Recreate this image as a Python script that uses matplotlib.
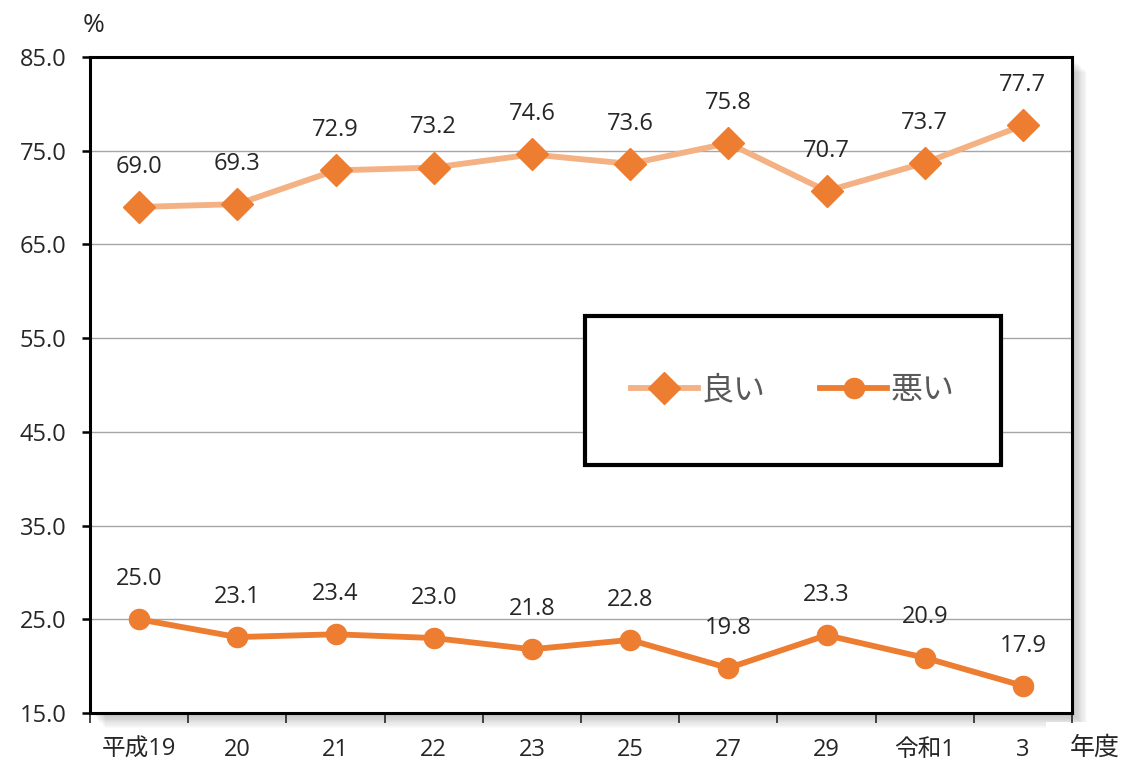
import matplotlib
matplotlib.use("Agg")
import matplotlib.pyplot as plt
from matplotlib.patches import Rectangle

plt.rcParams['font.family'] = ['Open Sans', 'Noto Sans CJK JP', 'DejaVu Sans']

categories = ["平成19", "20", "21", "22", "23", "25", "27", "29", "令和1", "3"]
good = [69.0, 69.3, 72.9, 73.2, 74.6, 73.6, 75.8, 70.7, 73.7, 77.7]
bad = [25.0, 23.1, 23.4, 23.0, 21.8, 22.8, 19.8, 23.3, 20.9, 17.9]
yticks = [15.0, 25.0, 35.0, 45.0, 55.0, 65.0, 75.0, 85.0]

fig = plt.figure(figsize=(11.29, 7.64), dpi=100)
W, H = 1129, 764
l, r, t, b = 90, 1072, 57, 713
ax = fig.add_axes([l / W, 1 - b / H, (r - l) / W, (b - t) / H])
ax.set_zorder(5)
ax.set_facecolor('white')

# soft drop shadow
for i in range(12):
    off = 2 + i * 1.2
    fig.patches.append(Rectangle(((l + off) / W, 1 - (b + off) / H), (r - l) / W, (b - t) / H,
                                 transform=fig.transFigure, facecolor='#000000',
                                 alpha=0.018, edgecolor='none', zorder=0))

x = list(range(len(categories)))
ax.plot(x, good, color='#F4B183', lw=4.2, marker='D', markersize=16,
        markerfacecolor='#ED7D31', markeredgecolor='#ED7D31', label='良い', zorder=3)
ax.plot(x, bad, color='#ED7D31', lw=4.2, marker='o', markersize=14.5,
        markerfacecolor='#ED7D31', markeredgecolor='#ED7D31', label='悪い', zorder=3)

fs = 17
for xi, v in zip(x, good):
    ax.annotate(f"{v:.1f}", (xi, v), xytext=(0, 29), textcoords='offset points',
                ha='center', va='center', fontsize=fs, color='#262626')
for xi, v in zip(x, bad):
    ax.annotate(f"{v:.1f}", (xi, v), xytext=(0, 29), textcoords='offset points',
                ha='center', va='center', fontsize=fs, color='#262626')

ax.set_xlim(-0.5, len(categories) - 0.5)
ax.set_ylim(15, 85)
ax.set_yticks(yticks)
ax.set_yticklabels([f"{v:.1f}" for v in yticks], fontsize=fs, color='#262626')
ax.set_xticks([i + 0.5 for i in range(-1, len(categories))])
ax.set_xticklabels([])
ax.set_xticks(x, minor=True)
ax.set_xticklabels(categories, minor=True, fontsize=fs, color='#262626')
ax.tick_params(axis='x', which='minor', length=0, pad=18)
ax.tick_params(axis='x', which='major', length=7, width=1.2, color='#262626', direction='out')
ax.tick_params(axis='y', length=6, width=1.8, direction='out', pad=11)
ax.grid(axis='y', color='#A6A6A6', lw=1)
ax.set_axisbelow(True)
for s in ax.spines.values():
    s.set_linewidth(2.2)
    s.set_color('#000000')

# legend box
lx0, ly0, lx1, ly1 = 585, 316, 1001, 465
to_ax = lambda px, py: ((px - l) / (r - l), 1 - (py - t) / (b - t))
bx0, by1 = to_ax(lx0, ly1)
bx1, by0 = to_ax(lx1, ly0)
ax.add_patch(Rectangle((bx0, by1), bx1 - bx0, by0 - by1, transform=ax.transAxes,
                       facecolor='white', edgecolor='black', lw=3, zorder=6))
leg = ax.legend(loc='center', bbox_to_anchor=((bx0 + bx1) / 2, (by0 + by1) / 2),
                ncol=2, fontsize=23, frameon=False, handlelength=2.1,
                columnspacing=1.7, handletextpad=0.12, labelcolor='#595959')
leg.set_zorder(7)

fig.text(83 / W, 1 - 25 / H, "%", fontsize=19, ha='left', va='center', color='#262626')
fig.patches.append(Rectangle((1046 / W, 0), 83 / W, (764 - 722) / H, transform=fig.transFigure,
                             facecolor='white', edgecolor='none', zorder=1))
fig.text(1095 / W, 1 - 748 / H, "年度", fontsize=18, ha='center', va='center', color='#262626')

fig.savefig("out.png", dpi=100)
